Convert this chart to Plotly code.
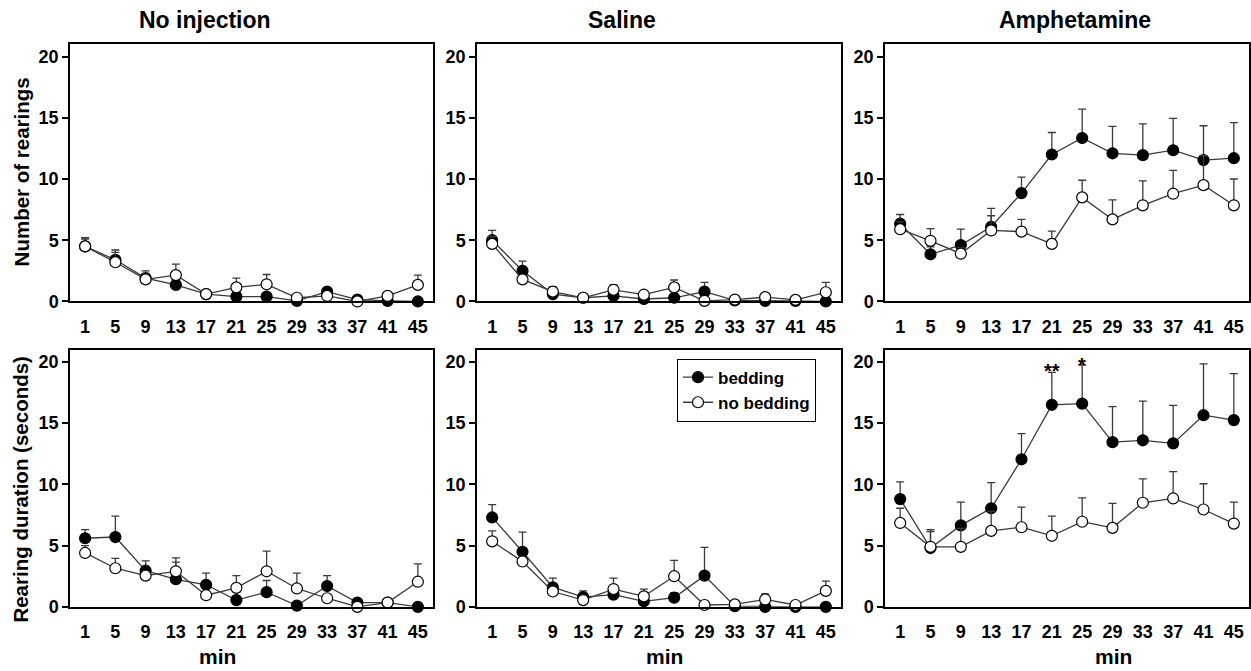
import plotly.graph_objects as go

minutes = [1, 5, 9, 13, 17, 21, 25, 29, 33, 37, 41, 45]
y_ticks = [0, 5, 10, 15, 20]
panel_titles = ["No injection", "Saline", "Amphetamine"]
row_titles = ["Number of rearings", "Rearing duration (seconds)"]
series_names = ["bedding", "no bedding"]

# Number of rearings
noinj_rear_bed = [4.5, 3.4, 1.9, 1.35, 0.6, 0.4, 0.4, 0.05, 0.8, 0.15, 0.05, 0.0]
noinj_rear_bed_err = [0.6, 0.8, 0.6, 0.4, 0.15, 0.2, 0.2, 0.1, 0.25, 0.1, 0.05, 0.05]
noinj_rear_nob = [4.5, 3.2, 1.8, 2.15, 0.6, 1.15, 1.4, 0.3, 0.45, 0.0, 0.45, 1.35]
noinj_rear_nob_err = [0.7, 0.8, 0.5, 0.9, 0.15, 0.75, 0.8, 0.1, 0.2, 0.05, 0.15, 0.8]

sal_rear_bed = [5.0, 2.5, 0.6, 0.3, 0.45, 0.2, 0.3, 0.8, 0.08, 0.05, 0.05, 0.0]
sal_rear_bed_err = [0.8, 0.8, 0.5, 0.1, 0.2, 0.1, 0.1, 0.75, 0.05, 0.05, 0.05, 0.05]
sal_rear_nob = [4.7, 1.8, 0.8, 0.3, 0.95, 0.55, 1.15, 0.05, 0.15, 0.35, 0.13, 0.75]
sal_rear_nob_err = [0.6, 0.3, 0.4, 0.1, 0.4, 0.15, 0.6, 0.05, 0.05, 0.15, 0.05, 0.8]

amph_rear_bed = [6.35, 3.85, 4.6, 6.1, 8.85, 12.0, 13.35, 12.1, 11.95, 12.35, 11.55, 11.7]
amph_rear_bed_err = [0.75, 0.6, 1.3, 1.5, 1.3, 1.8, 2.35, 2.2, 2.55, 2.6, 2.8, 2.9]
amph_rear_nob = [5.9, 4.95, 3.9, 5.8, 5.7, 4.7, 8.5, 6.7, 7.85, 8.8, 9.5, 7.85]
amph_rear_nob_err = [0.6, 1.0, 0.5, 1.2, 1.0, 1.05, 1.4, 1.6, 2.0, 1.9, 2.4, 2.15]

# Rearing duration (seconds)
noinj_dur_bed = [5.6, 5.7, 2.95, 2.25, 1.8, 0.55, 1.2, 0.1, 1.7, 0.35, 0.35, 0.0]
noinj_dur_bed_err = [0.7, 1.7, 0.8, 1.4, 0.95, 0.3, 0.95, 0.1, 0.85, 0.1, 0.1, 0.05]
noinj_dur_nob = [4.4, 3.15, 2.55, 2.9, 0.95, 1.55, 2.9, 1.5, 0.7, 0.0, 0.35, 2.05]
noinj_dur_nob_err = [0.6, 0.8, 0.3, 1.1, 0.2, 1.0, 1.65, 1.25, 0.2, 0.05, 0.1, 1.45]

sal_dur_bed = [7.3, 4.5, 1.6, 0.8, 1.0, 0.45, 0.75, 2.55, 0.05, 0.0, 0.0, 0.0]
sal_dur_bed_err = [1.05, 1.6, 0.75, 0.5, 0.3, 0.2, 0.4, 2.3, 0.05, 0.05, 0.05, 0.05]
sal_dur_nob = [5.35, 3.7, 1.25, 0.55, 1.45, 0.85, 2.5, 0.15, 0.2, 0.6, 0.15, 1.3]
sal_dur_nob_err = [0.85, 0.3, 0.3, 0.2, 0.9, 0.6, 1.3, 0.05, 0.1, 0.45, 0.05, 0.8]

amph_dur_bed = [8.8, 4.8, 6.65, 8.05, 12.05, 16.5, 16.6, 13.45, 13.6, 13.35, 15.65, 15.25]
amph_dur_bed_err = [1.4, 1.5, 1.9, 2.1, 2.1, 2.65, 3.15, 2.9, 3.2, 3.1, 4.2, 3.8]
amph_dur_nob = [6.85, 4.9, 4.9, 6.2, 6.5, 5.8, 6.95, 6.45, 8.5, 8.85, 7.95, 6.8]
amph_dur_nob_err = [1.2, 1.25, 1.5, 1.6, 1.65, 1.6, 1.95, 2.0, 1.95, 2.2, 2.1, 1.75]

panels = [
    (noinj_rear_bed, noinj_rear_bed_err, noinj_rear_nob, noinj_rear_nob_err),
    (sal_rear_bed, sal_rear_bed_err, sal_rear_nob, sal_rear_nob_err),
    (amph_rear_bed, amph_rear_bed_err, amph_rear_nob, amph_rear_nob_err),
    (noinj_dur_bed, noinj_dur_bed_err, noinj_dur_nob, noinj_dur_nob_err),
    (sal_dur_bed, sal_dur_bed_err, sal_dur_nob, sal_dur_nob_err),
    (amph_dur_bed, amph_dur_bed_err, amph_dur_nob, amph_dur_nob_err),
]

W, H = 1251, 671
col_px = [(70, 433), (477, 841), (885, 1249)]
row_px = [(45, 306), (355, 616)]

FONT = "Liberation Sans, Arial, sans-serif"
LINE_COL = "#3a3a3a"
TICK_SIZE = 18

fig = go.Figure()
layout = dict(
    width=W, height=H,
    margin=dict(l=0, r=0, t=0, b=0),
    paper_bgcolor="white", plot_bgcolor="white",
    font=dict(family=FONT, color="black"),
    showlegend=True,
)

for i, (bed, bed_err, nob, nob_err) in enumerate(panels):
    r, c = divmod(i, 3)
    ax = "" if i == 0 else str(i + 1)
    xr = "x" + ax
    yr = "y" + ax
    x0, x1 = col_px[c]
    y0, y1 = row_px[r]
    layout["xaxis" + ax] = dict(
        domain=[x0 / W, x1 / W], range=[-1, 47], anchor=yr,
        tickmode="array", tickvals=minutes, ticktext=[str(m) for m in minutes],
        ticks="", showgrid=False, zeroline=False,
        showline=True, linecolor="black", linewidth=1.5, mirror=True,
        tickfont=dict(family=FONT, size=TICK_SIZE, color="black", weight="bold"),
        ticklabelstandoff=8,
    )
    layout["yaxis" + ax] = dict(
        domain=[1 - y1 / H, 1 - y0 / H], range=[0, 21], anchor=xr,
        tickmode="array", tickvals=y_ticks,
        ticks="outside", ticklen=6, tickwidth=1.5, tickcolor="black",
        showgrid=False, zeroline=False,
        showline=True, linecolor="black", linewidth=1.5, mirror=True,
        tickfont=dict(family=FONT, size=TICK_SIZE, color="black", weight="bold"),
        ticklabelstandoff=0,
    )
    for name, vals, errs, fill in [(series_names[0], bed, bed_err, "black"),
                                   (series_names[1], nob, nob_err, "white")]:
        fig.add_trace(go.Scatter(
            x=minutes, y=vals, xaxis=xr, yaxis=yr, name=name,
            mode="lines+markers", cliponaxis=False, showlegend=False,
            line=dict(color=LINE_COL, width=1.3),
            marker=dict(size=11, color=fill, line=dict(color="black", width=1.2)),
            error_y=dict(type="data", array=errs, arrayminus=[0] * len(errs),
                         symmetric=False, color=LINE_COL, thickness=1.3, width=4),
        ))

# legend entries (shown in the Saline duration panel)
for name, fill in [(series_names[0], "black"), (series_names[1], "white")]:
    fig.add_trace(go.Scatter(
        x=[None], y=[None], xaxis="x5", yaxis="y5", name=name,
        mode="lines+markers", showlegend=True,
        line=dict(color=LINE_COL, width=1.3),
        marker=dict(size=11, color=fill, line=dict(color="black", width=1.2)),
    ))

annotations = []
title_x = [205, 622, 1075]
for t, xpx in zip(panel_titles, title_x):
    annotations.append(dict(text=t, x=xpx / W, y=1 - 20 / H, xref="paper", yref="paper",
                            showarrow=False, xanchor="center", yanchor="middle",
                            font=dict(family=FONT, size=23, color="black", weight="bold")))
for t, ypx in zip(row_titles, [175, 497]):
    annotations.append(dict(text=t, x=21 / W, y=1 - ypx / H, xref="paper", yref="paper",
                            showarrow=False, textangle=-90, xanchor="center", yanchor="middle",
                            font=dict(family=FONT, size=20.5, color="black", weight="bold")))
for xpx in [217, 665, 1113]:
    annotations.append(dict(text="min", x=xpx / W, y=0, xref="paper", yref="paper",
                            showarrow=False, xanchor="center", yanchor="bottom", yshift=-9,
                            font=dict(family=FONT, size=21, color="black", weight="bold")))
# significance markers on amphetamine duration panel
annotations.append(dict(text="**", x=21, y=18.2, xref="x6", yref="y6", showarrow=False,
                        xanchor="center", yanchor="bottom",
                        font=dict(family=FONT, size=20, color="black", weight="bold")))
annotations.append(dict(text="*", x=25, y=18.7, xref="x6", yref="y6", showarrow=False,
                        xanchor="center", yanchor="bottom",
                        font=dict(family=FONT, size=20, color="black", weight="bold")))
layout["annotations"] = annotations

layout["legend"] = dict(
    x=677 / W, y=1 - 364 / H, xanchor="left", yanchor="top",
    bgcolor="white", bordercolor="black", borderwidth=1,
    font=dict(family=FONT, size=17, color="black", weight="bold"),
    tracegroupgap=0,
)

fig.update_layout(**layout)
fig.write_html("out.html")
